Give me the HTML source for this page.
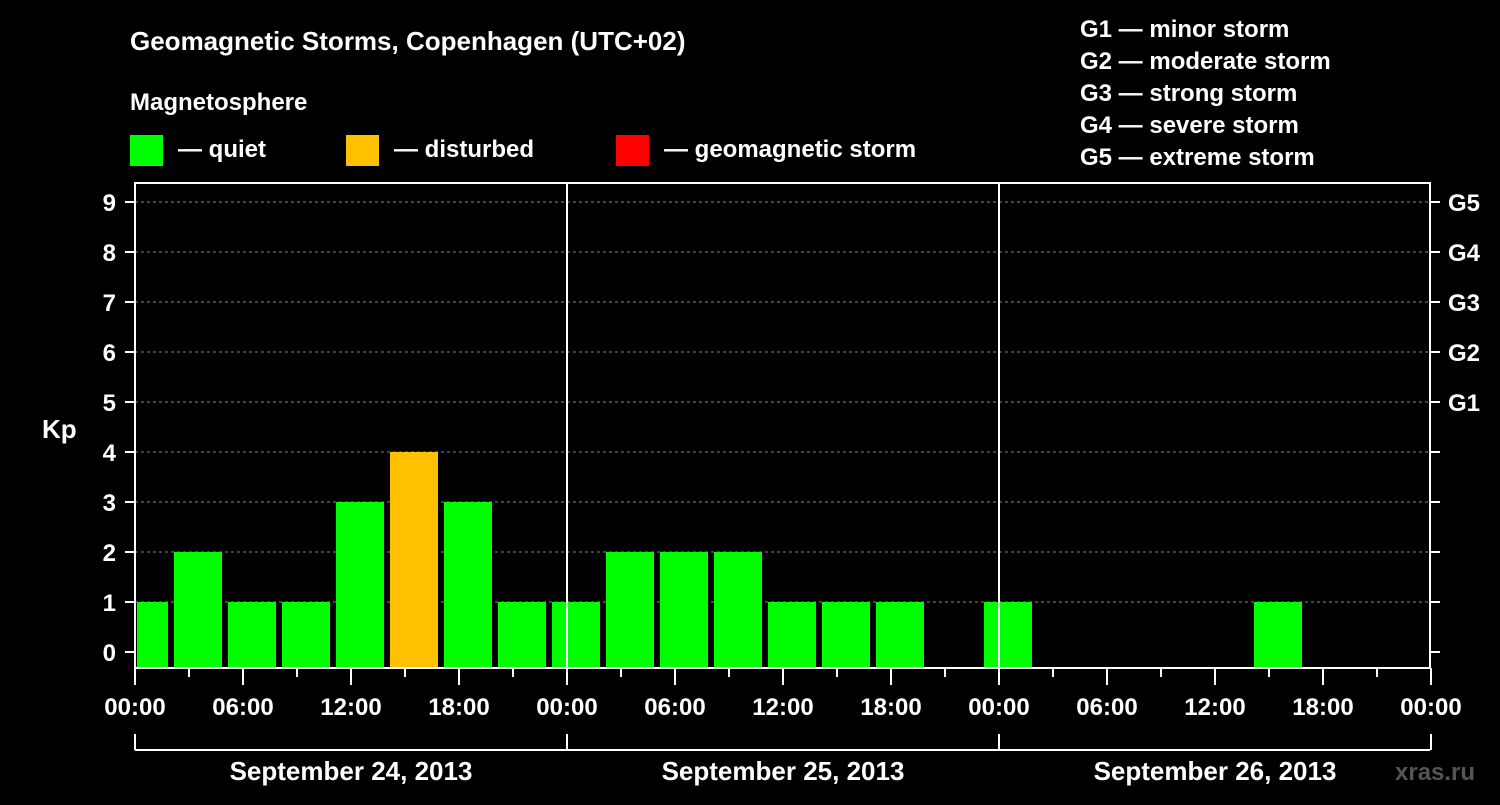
<!DOCTYPE html>
<html><head><meta charset="utf-8"><style>
body{margin:0;background:#000;width:1500px;height:800px;overflow:hidden}
svg text{font-family:"Liberation Sans",sans-serif;font-weight:bold;fill:#fff}
</style></head><body>
<svg id="c" width="1500" height="800">
<text x="130" y="50" font-size="26">Geomagnetic Storms, Copenhagen (UTC+02)</text>
<text x="130" y="110" font-size="24">Magnetosphere</text>
<rect x="130" y="135" width="33" height="31" fill="#00ff00"/>
<text x="178" y="157" font-size="24">— quiet</text>
<rect x="346" y="135" width="33" height="31" fill="#ffc000"/>
<text x="394" y="157" font-size="24">— disturbed</text>
<rect x="616" y="135" width="33" height="31" fill="#ff0000"/>
<text x="664" y="157" font-size="24">— geomagnetic storm</text>
<g font-size="24">
<text x="1080" y="37">G1 — minor storm</text>
<text x="1080" y="69">G2 — moderate storm</text>
<text x="1080" y="101">G3 — strong storm</text>
<text x="1080" y="133">G4 — severe storm</text>
<text x="1080" y="165">G5 — extreme storm</text>
</g>
<text x="42" y="438" font-size="26">Kp</text>
<g id="grid"></g><g id="bars"></g><g id="axes"></g>
<text x="1395" y="780" font-size="24" fill="#555" style="fill:#555">xras.ru</text>
</svg>
<script>
const kpValues=[1,2,1,1,3,4,3,1, 1,2,2,2,1,1,1,0, 1,0,0,0,0,1,0,0];
const yTicks=[0,1,2,3,4,5,6,7,8,9];
const gLabels=["G1","G2","G3","G4","G5"];
const dayLabels=["September 24, 2013","September 25, 2013","September 26, 2013"];
const hourLabels=["00:00","06:00","12:00","18:00"];
const NS="http://www.w3.org/2000/svg";
const X0=135,X1=1430,YT=183,YB=668;
const hx=h=>X0+h*18;           // hours since Sep 24 00:00
const ky=v=>652-v*50;
function mk(tag,attrs,parent,txt){const e=document.createElementNS(NS,tag);for(const k in attrs)e.setAttribute(k,attrs[k]);if(txt!==undefined)e.textContent=txt;document.getElementById(parent).appendChild(e);return e;}
yTicks.forEach(v=>{
  if(v>=1){const g=mk('line',{x1:X0,x2:X1,y1:ky(v),y2:ky(v),stroke:'#888','stroke-dasharray':'3,3','stroke-width':1},'grid');
  
  }
  const t=mk('text',{x:116,y:ky(v)+9,'font-size':24,'text-anchor':'end'},'axes',v);
  
  
  mk('line',{x1:X0-10,x2:X0,y1:ky(v),y2:ky(v),stroke:'#fff','stroke-width':2},'axes');
  mk('line',{x1:X1,x2:X1+10,y1:ky(v),y2:ky(v),stroke:'#fff','stroke-width':2},'axes');
});
gLabels.forEach((g,i)=>{const t=mk('text',{x:1448,y:ky(5+i)+9,'font-size':24},'axes',g);
  
  });
kpValues.forEach((v,k)=>{
  if(v<=0)return;
  let a=hx(k*3-1)+3,b=hx(k*3+2)-3;a=Math.max(a,X0+2);b=Math.min(b,X1-2);
  const r=mk('rect',{x:a,y:ky(v),width:b-a,height:YB-ky(v),fill:v>=5?'#ff0000':(v>=4?'#ffc000':'#00ff00')},'bars');
  
  
});
mk('rect',{x:X0,y:YT,width:X1-X0,height:YB-YT,fill:'none',stroke:'#fff','stroke-width':2},'axes');
[1,2].forEach(d=>mk('line',{x1:hx(24*d),x2:hx(24*d),y1:YT,y2:YB,stroke:'#fff','stroke-width':2},'axes'));
for(let h=0;h<=72;h+=3){
  mk('line',{x1:hx(h),x2:hx(h),y1:YB,y2:YB+(h%6==0?17:9),stroke:'#fff','stroke-width':2},'axes');
  if(h%6==0){const t=mk('text',{x:hx(h),y:715,'font-size':24,'text-anchor':'middle'},'axes',hourLabels[(h/6)%4]);
    
    }
}
mk('line',{x1:X0,x2:X1,y1:750,y2:750,stroke:'#fff','stroke-width':2},'axes');
for(let d=0;d<=3;d++)mk('line',{x1:hx(24*d),x2:hx(24*d),y1:734,y2:750,stroke:'#fff','stroke-width':2},'axes');
dayLabels.forEach((l,d)=>{const t=mk('text',{x:hx(24*d+12),y:780,'font-size':26,'text-anchor':'middle'},'axes',l);
  
  });
</script>
</body></html>
